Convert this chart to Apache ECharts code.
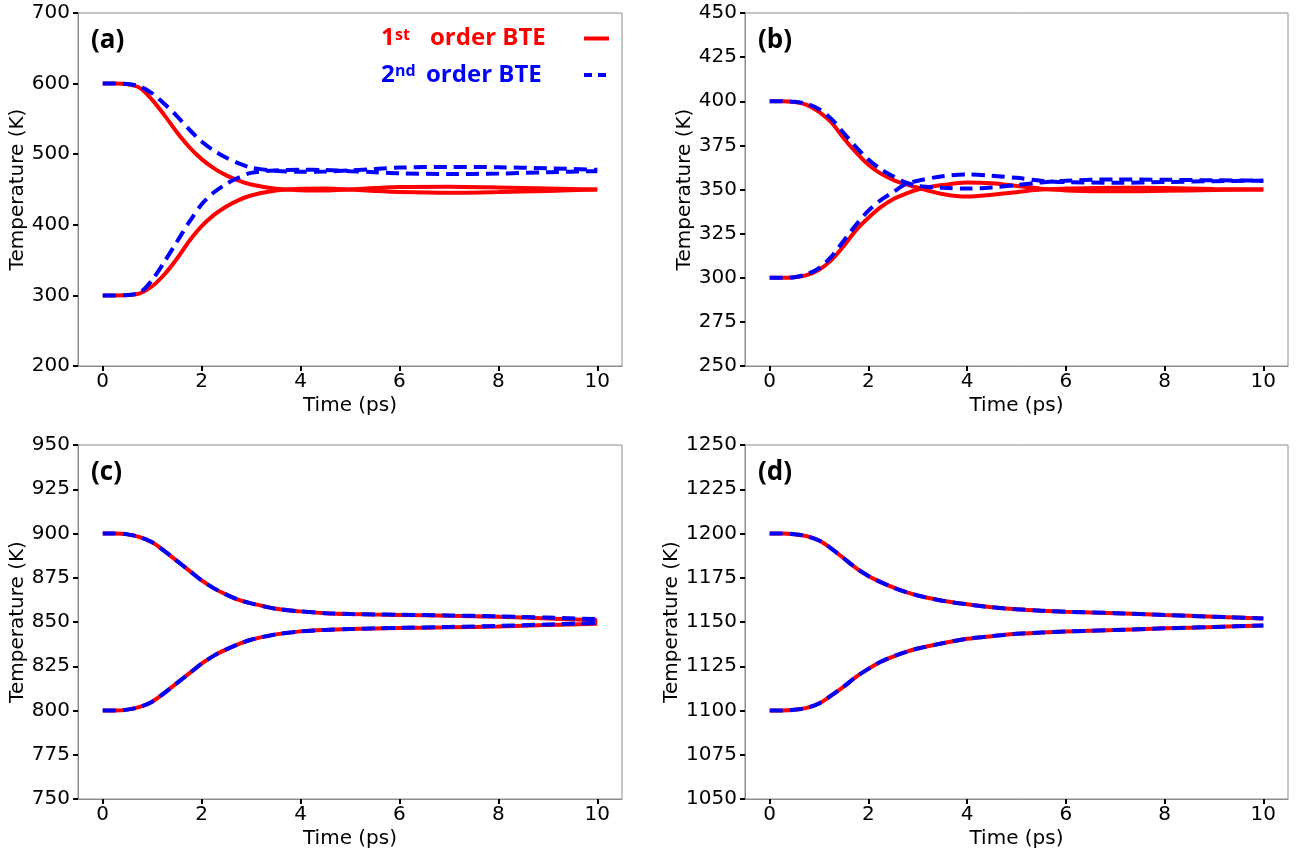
<!DOCTYPE html>
<html><head><meta charset="utf-8">
<script src="https://cdn.jsdelivr.net/npm/echarts@6/dist/echarts.min.js"></script>
<style>html,body{margin:0;padding:0;background:#fff}#c{width:1305px;height:854px}</style>
</head><body><div id="c"></div>
<script>
// ---- data ----
const times = [0,0.25,0.5,0.75,1,1.25,1.5,1.75,2,2.25,2.5,2.75,3,3.5,4,4.5,5,5.5,6,7,8,9,10];
const xTicks = [0,2,4,6,8,10];
const seriesNames = ['1st order BTE','2nd order BTE'];
const panelLabels = ['(a)','(b)','(c)','(d)'];
const yMins = [200,250,750,1050];
const yMaxs = [700,450,950,1250];
const ySteps = [100,25,25,25];

// (a)
const aRedHot   = [600,600,599,594,577,555,531,510,493,480,470,462.5,457,451,449,448.5,450,452,453.5,454,453,451.5,450];
const aRedCold  = [300,300,300.5,303,313,330,352,377,398,414,426,435,441.5,448.5,451,451.5,450,448,446.5,445.5,446.5,448,450];
const aBlueHot  = [600,600,599.5,596,586,571,554,535,518,505,495,487,481,476.5,475,475.5,477,479,481,482,481.5,480,478];
const aBlueCold = [300,300,300.5,304,322,348,376,404,429,446,458,467,473.5,477,478,477.5,476,474.5,473,472,472.5,474.5,476];
// (b)
const bRedHot   = [400,400,399.5,398,394,388,379,371,364,359,355.5,353,351,347.5,346,347,348.5,350,350.5,351,350.8,350.3,350];
const bRedCold  = [300,300,300.3,301.5,304.5,310,318,327,334,340,344.5,347.5,350,352.5,354,353.5,352,350.5,349.5,349,349.3,349.7,350];
const bBlueHot  = [400,400,399.7,398.5,395.5,390,382,374,367,361.5,357.5,354,352,351,350.5,351.2,352.5,354,355,355.7,355.5,355.2,355];
const bBlueCold = [300,300,300.3,302,305.5,312,321,330,338,344,348.5,353,355,357.5,358.5,357.8,356.6,355,354.2,353.8,354.2,354.7,355];
// (c)
const cRedHot   = [900,900,899.5,898,895,890,884.5,879,873.5,869,865.5,862.5,860.5,857.5,856,855,854.5,854.2,854,853.5,853,852,851];
const cRedCold  = [800,800,800.5,802,805,810,815.5,821,826.5,831,834.5,837.5,840,843,844.7,845.5,846,846.3,846.6,847,847.5,848.3,849];
const cBlueHot  = [900,900,899.5,898,895,890,884.5,879,873.5,869,865.5,862.5,860.5,857.5,856,855,854.5,854.3,854.1,853.7,853.2,852.5,851.6];
const cBlueCold = [800,800,800.5,802,805,810,815.5,821,826.5,831,834.5,837.5,840,843,844.7,845.5,846,846.4,846.7,847.2,847.8,848.6,849.5];
// (d)
const dRedHot   = [1200,1200,1199.6,1198.5,1196,1191.5,1186,1180.5,1176,1172.5,1169.5,1167,1165,1162,1160,1158.3,1157.2,1156.4,1155.8,1155,1154,1153,1152];
const dRedCold  = [1100,1100,1100.4,1101.5,1104,1108.5,1113.5,1119,1123.5,1127.5,1130.5,1133,1135,1138,1140.5,1142,1143.3,1144,1144.6,1145.5,1146.4,1147.2,1148];
const dBlueHot  = [1200,1200,1199.6,1198.5,1196,1191.5,1186,1180.5,1176,1172.5,1169.5,1167,1165,1162,1160,1158.3,1157.2,1156.4,1155.8,1155,1154,1153,1152];
const dBlueCold = [1100,1100,1100.4,1101.5,1104,1108.5,1113.5,1119,1123.5,1127.5,1130.5,1133,1135,1138,1140.5,1142,1143.3,1144,1144.6,1145.5,1146.4,1147.2,1148];

const redSets  = [[aRedHot,aRedCold],[bRedHot,bRedCold],[cRedHot,cRedCold],[dRedHot,dRedCold]];
const blueSets = [[aBlueHot,aBlueCold],[bBlueHot,bBlueCold],[cBlueHot,cBlueCold],[dBlueHot,dBlueCold]];

// ---- layout ----
const gridBoxes = [
  {left:78, top:13, width:544, height:353},
  {left:745, top:13, width:543, height:353},
  {left:78, top:445, width:544, height:354},
  {left:745, top:445, width:543, height:354}
];
const AX = '#8c8c8c';
const FONT = 'DejaVu Sans';

const chart = echarts.init(document.getElementById('c'));
const pair = arr => times.map((t,i)=>[t,arr[i]]);

const grid = gridBoxes.map(g => Object.assign({show:true, borderColor:AX, borderWidth:1, containLabel:false}, g));
const xAxis = gridBoxes.map((g,i)=>({
  type:'value', gridIndex:i, min:-0.5, max:10.5,
  name:'Time (ps)', nameLocation:'middle', nameGap:30,
  nameTextStyle:{fontFamily:FONT, fontSize:20, color:'#000'},
  axisLine:{show:true, onZero:false, lineStyle:{color:AX, width:1}},
  axisTick:{show:true, customValues:xTicks, length:5, lineStyle:{color:'#000', width:2}},
  axisLabel:{customValues:xTicks, fontFamily:FONT, fontSize:20, color:'#000', margin:6, formatter:v=>String(v)},
  splitLine:{show:false}
}));
const yAxis = gridBoxes.map((g,i)=>({
  type:'value', gridIndex:i, min:yMins[i], max:yMaxs[i], interval:ySteps[i],
  name:'Temperature (K)', nameLocation:'middle', nameGap:50,
  nameTextStyle:{fontFamily:FONT, fontSize:20, color:'#000'},
  axisLine:{show:true, onZero:false, lineStyle:{color:AX, width:1}},
  axisTick:{show:true, length:5, lineStyle:{color:'#000', width:2}},
  axisLabel:{fontFamily:FONT, fontSize:20, color:'#000', margin:8, formatter:v=>String(v)},
  splitLine:{show:false}
}));

const series = [];
redSets.forEach((set,i)=>{
  set.forEach(arr=>series.push({
    name:seriesNames[0], type:'line', xAxisIndex:i, yAxisIndex:i, data:pair(arr),
    symbol:'none', smooth:0.3, z:2,
    lineStyle:{color:'#ff0000', width:4}, itemStyle:{color:'#ff0000'}
  }));
});
blueSets.forEach((set,i)=>{
  set.forEach(arr=>series.push({
    name:seriesNames[1], type:'line', xAxisIndex:i, yAxisIndex:i, data:pair(arr),
    symbol:'none', smooth:0.3, z:3,
    lineStyle:{color:'#0000ff', width:4, type:[13,7]}, itemStyle:{color:'#0000ff'}
  }));
});

const graphic = gridBoxes.map((g,i)=>({
  type:'text', x:g.left+13, y:g.top+28,
  style:{text:panelLabels[i], fontFamily:'Open Sans', fontWeight:'bold', fontSize:26, fill:'#000', verticalAlign:'middle'}
}));

const LF = 'Open Sans';
const tok = (c, fs, lh, w, extra) => Object.assign({color:c, fontFamily:LF, fontWeight:'bold', fontSize:fs, lineHeight:lh, width:w, align:'left'}, extra||{});
const legend = {
  show:true, orient:'vertical', left:381, top:24, padding:0, itemGap:10, align:'right',
  itemWidth:25, itemHeight:14, selectedMode:false,
  itemStyle:{opacity:0, color:'rgba(0,0,0,0)', borderWidth:0},
  data:[
    {name:seriesNames[0], lineStyle:{width:4}},
    {name:seriesNames[1], lineStyle:{width:4, type:[8,6]}}
  ],
  formatter: n => n === seriesNames[0] ? '{n1|1}{s1|st}{o1|order BTE}' : '{n2|2}{s2|nd}{o2|order BTE}',
  textStyle:{
    rich:{
      n1: tok('#ff0000',24,29,14),
      s1: tok('#ff0000',16,16,35,{verticalAlign:'top', padding:[3,0,0,0]}),
      o1: tok('#ff0000',24,29,149),
      n2: tok('#0000ff',24,29,14),
      s2: tok('#0000ff',16,16,31,{verticalAlign:'top', padding:[3,0,0,0]}),
      o2: tok('#0000ff',24,29,153)
    }
  }
};

chart.setOption({animation:false, backgroundColor:'#fff', grid, xAxis, yAxis, series, legend, graphic});
</script></body></html>
